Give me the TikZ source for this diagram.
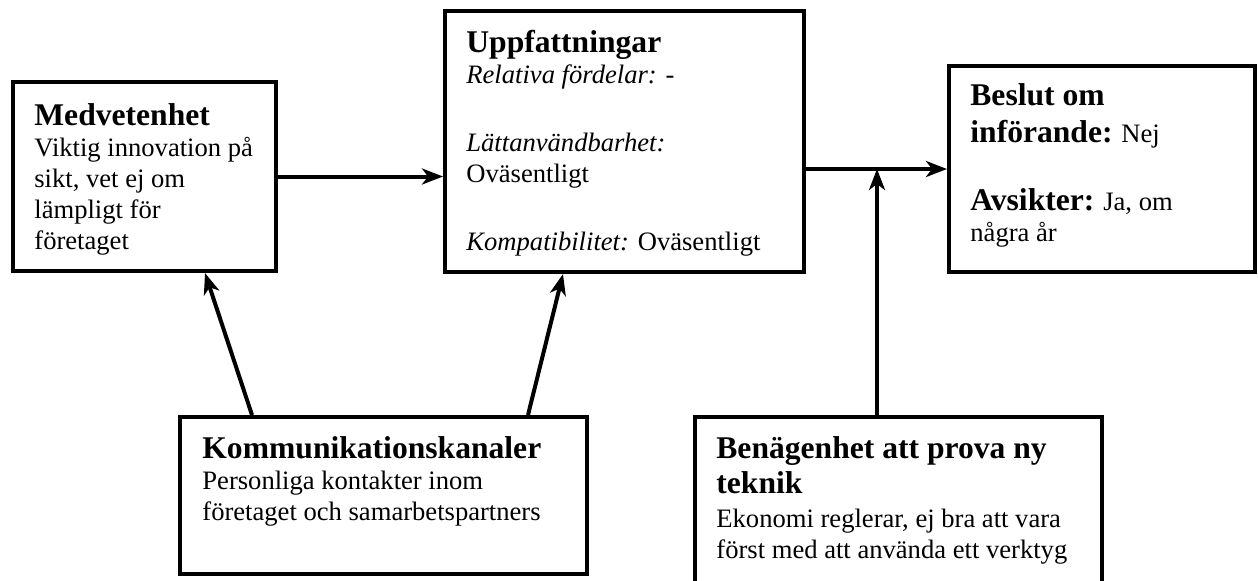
\documentclass[tikz,border=0pt]{standalone}
\usepackage{fontspec}
\setmainfont{Liberation Serif}
\usetikzlibrary{arrows.meta}
\newcommand\hdfont{\fontsize{15.8}{18}\selectfont\bfseries}
\newcommand\firstln{\rule{0pt}{12pt}}
\begin{document}
\begin{tikzpicture}[x=0.5pt,y=-0.5pt,
  box/.style={draw, line width=2pt, rectangle, inner sep=0pt},
  txt/.style={anchor=north west, inner sep=0pt, align=left,
    font=\fontsize{13.3}{15.5}\selectfont},
  arr/.style={line width=2pt, -{Stealth[length=10.5pt,width=8pt,inset=3pt]}}]
\useasboundingbox (0,0) rectangle (1258,580);
\clip (0,0) rectangle (1258,580);

% boxes
\node[box, minimum width=131.5pt, minimum height=94.5pt]  (med) at (144.5,176.5) {};
\node[box, minimum width=179.5pt, minimum height=130.5pt] (upp) at (624.5,141.5) {};
\node[box, minimum width=153pt,   minimum height=103pt]   (bes) at (1102,169) {};
\node[box, minimum width=203.5pt, minimum height=78.5pt]  (kom) at (383.5,495.5) {};
\node[box, minimum width=203.5pt, minimum height=101.5pt] (ben) at (898.5,518.5) {};

% texts
\node[txt] (medT) at (34,101) {\firstln{\hdfont Medvetenhet}\\
  Viktig innovation på\\ sikt, vet ej om\\ lämpligt för\\ företaget};
\node[txt] (uppT) at (466,28) {\firstln{\hdfont Uppfattningar}\\
  \textit{Relativa fördelar:} -\\[18.5pt]
  \textit{Lättanvändbarhet:}\\ Oväsentligt\\[18.5pt]
  \textit{Kompatibilitet:} Oväsentligt};
\node[txt] (besT) at (970,81) {\firstln{\hdfont Beslut om}\\[3pt]
  {\hdfont införande:} Nej\\[18.5pt]
  {\hdfont Avsikter:} Ja, om\\ några år};
\node[txt] (komT) at (202,434) {\firstln{\hdfont Kommunikationskanaler}\\
  Personliga kontakter inom\\ företaget och samarbetspartners};
\node[txt] (benT) at (716,434) {\firstln{\hdfont Benägenhet att prova ny}\\[2pt]
  {\hdfont teknik}\\[1.5pt]
  Ekonomi reglerar, ej bra att vara\\ först med att använda ett verktyg};

% connectors
\coordinate (j) at (877,0);
\draw[arr] (med.east) -- (med.east -| upp.west);
\draw[arr] (upp.east |- bes.west) -- (bes.west);
\draw[arr] (ben.north -| j) -- (j |- bes.west);
\draw[arr] ([xshift=37pt]kom.north west) -- ([xshift=97pt]med.south west);
\draw[arr] ([xshift=175pt]kom.north west) -- ([xshift=60pt]upp.south west);
\end{tikzpicture}
\end{document}
